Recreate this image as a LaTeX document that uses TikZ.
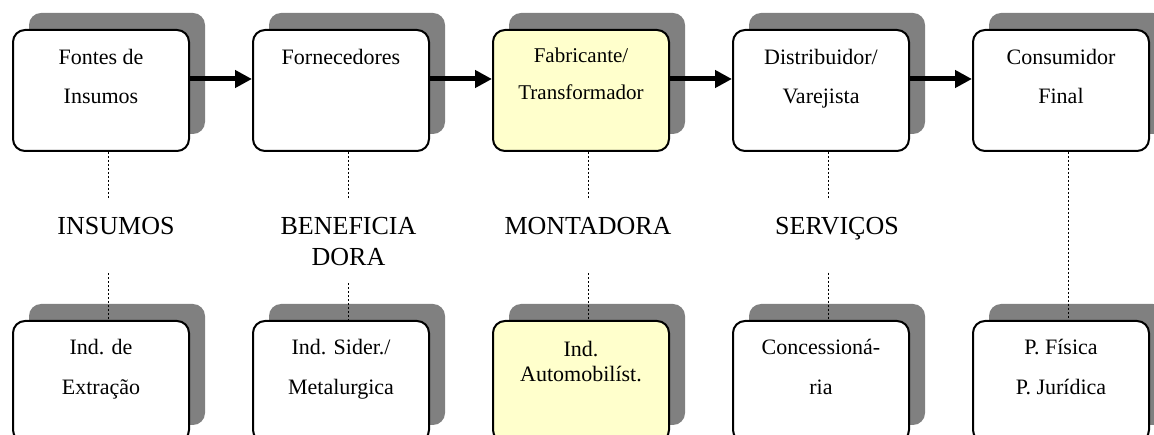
\documentclass[tikz,border=0pt]{standalone}
\usepackage{fontspec}
\setmainfont{Liberation Serif}
\usetikzlibrary{positioning,shadows,arrows.meta}
\definecolor{sombra}{HTML}{808080}
\definecolor{amarelo}{HTML}{FFFFCC}
\tikzset{
  caixa/.style={draw, line width=2pt, rounded corners=12pt, fill=white,
    minimum width=176pt, minimum height=121pt, inner sep=0pt,
    drop shadow={shadow xshift=16pt, shadow yshift=17pt, fill=sombra, opacity=1}},
  texto/.style={align=center, inner sep=0pt, font=\fontsize{22}{39}\selectfont},
  meio/.style={align=center, inner sep=0pt, anchor=north, font=\fontsize{26}{31}\selectfont},
  seta/.style={line width=5pt, -{Triangle[length=17pt,width=17pt]}},
  pontilhado/.style={line width=1.6pt, dash pattern=on 2pt off 2pt}
}
\begin{document}
\begin{tikzpicture}[x=1pt,y=-1pt]
\useasboundingbox (0,0) rectangle (1154,435);
\clip (0,0) rectangle (1154,435);
% cadeia
\node[caixa] (fontes) at (101,90.5) {};
\node[caixa] (fornec) at (341,90.5) {};
\node[caixa, fill=amarelo] (fabric) at (581,90.5) {};
\node[caixa] (distrib) at (821,90.5) {};
\node[caixa] (consum) at (1061,90.5) {};
\node[texto, below=20pt of fontes.north] (tfontes) {Fontes de\\Insumos};
\node[texto, below=20pt of fornec.north] (tfornec) {Fornecedores};
\node[texto, font=\fontsize{21}{37}\selectfont, below=19pt of fabric.north] (tfabric) {Fabricante/\\Transformador};
\node[texto, below=20pt of distrib.north] (tdistrib) {Distribuidor/\\Varejista};
\node[texto, below=20pt of consum.north] (tconsum) {Consumidor\\Final};
\draw[seta] ([yshift=11.5pt]fontes.east) -- ([yshift=11.5pt]fornec.west);
\draw[seta] ([yshift=11.5pt]fornec.east) -- ([yshift=11.5pt]fabric.west);
\draw[seta] ([yshift=11.5pt]fabric.east) -- ([yshift=11.5pt]distrib.west);
\draw[seta] ([yshift=11.5pt]distrib.east) -- ([yshift=11.5pt]consum.west);
% setores
\node[meio] (insumos) at (116,217.5) {INSUMOS};
\node[meio] (benef) at (348.5,217.5) {BENEFICIA\\DORA};
\node[meio] (montad) at (588,217.5) {MONTADORA};
\node[meio] (servicos) at (837,217.5) {SERVIÇOS};
% exemplos
\node[caixa] (extracao) at (101,381.5) {};
\node[caixa] (sider) at (341,381.5) {};
\node[caixa, fill=amarelo] (auto) at (581,381.5) {};
\node[caixa] (conces) at (821,381.5) {};
\node[caixa] (fisica) at (1061,381.5) {};
\node[texto, font=\fontsize{22}{40}\selectfont, below=19pt of extracao.north] (textracao) {Ind. de\\Extração};
\node[texto, font=\fontsize{22}{40}\selectfont, below=19pt of sider.north] (tsider) {Ind. Sider./\\Metalurgica};
\node[texto, font=\fontsize{22}{25}\selectfont, below=21pt of auto.north] (tauto) {Ind.\\Automobilíst.};
\node[texto, font=\fontsize{22}{40}\selectfont, below=19pt of conces.north] (tconces) {Concessioná-\\ria};
\node[texto, font=\fontsize{22}{40}\selectfont, below=19pt of fisica.north] (tfisica) {P. Física\\P. Jurídica};
% ligacoes
\draw[pontilhado, shorten >=18.5pt] ([xshift=7.5pt]fontes.south) -- ([xshift=7.5pt]fontes.south |- insumos.north);
\draw[pontilhado, shorten >=18.5pt] ([xshift=7.5pt]fornec.south) -- ([xshift=7.5pt]fornec.south |- benef.north);
\draw[pontilhado, shorten >=18.5pt] ([xshift=7.5pt]fabric.south) -- ([xshift=7.5pt]fabric.south |- montad.north);
\draw[pontilhado, shorten >=18.5pt] ([xshift=7.5pt]distrib.south) -- ([xshift=7.5pt]distrib.south |- servicos.north);
\draw[pontilhado, shorten <=38pt] ([xshift=7.5pt]extracao.north |- insumos.south) -- ([xshift=7.5pt]extracao.north);
\draw[pontilhado, shorten <=17pt] ([xshift=7.5pt]sider.north |- benef.south) -- ([xshift=7.5pt]sider.north);
\draw[pontilhado, shorten <=38pt] ([xshift=7.5pt]auto.north |- montad.south) -- ([xshift=7.5pt]auto.north);
\draw[pontilhado, shorten <=32pt] ([xshift=7.5pt]conces.north |- servicos.south) -- ([xshift=7.5pt]conces.north);
\draw[pontilhado] ([xshift=7.5pt]consum.south) -- ([xshift=7.5pt]fisica.north);
\end{tikzpicture}
\end{document}
